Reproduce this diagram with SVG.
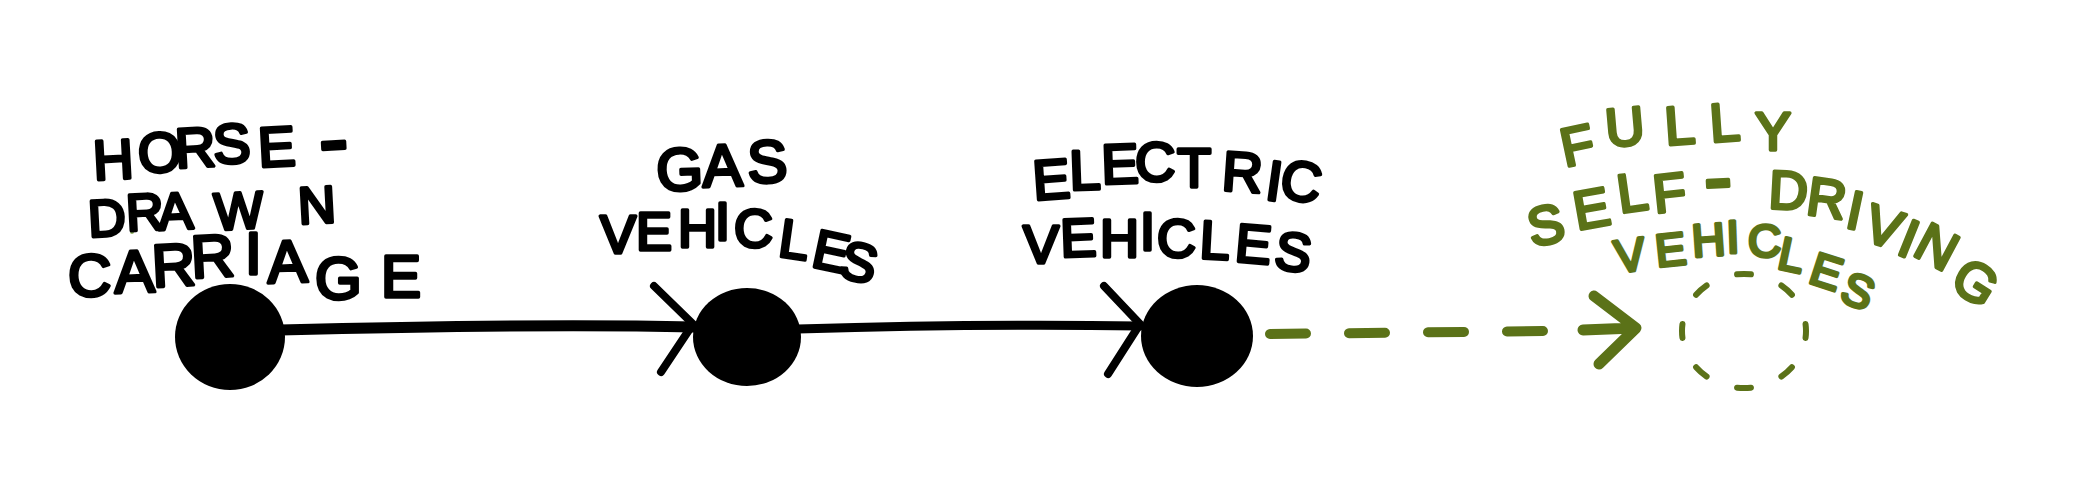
<svg xmlns="http://www.w3.org/2000/svg" width="2086" height="504" viewBox="0 0 2086 504">
  <style>
    .lbl { font-family: "Liberation Sans", Arial, sans-serif; font-weight: normal; stroke-linejoin: round; stroke-linecap: round; }
    .blk { fill: #000; stroke: #000; stroke-width: 3.5; }
    .grn { fill: #5b7218; stroke: #5b7218; stroke-width: 3.5; }
    .dot { fill: #000; }
    .wire { fill: none; stroke: #000; stroke-linecap: round; stroke-linejoin: round; }
    .gwire { fill: none; stroke: #5b7218; stroke-linecap: round; stroke-linejoin: round; }
  </style>
  <rect width="2086" height="504" fill="#ffffff"/>

  <g id="connectors">
    <path class="wire" stroke-width="11" d="M 280 330 C 400 327, 560 324, 694 327"/>
    <path class="wire" stroke-width="8" d="M 654 286 L 693 324 L 661 372"/>
    <path class="wire" stroke-width="9" d="M 798 329 C 900 326, 1010 324, 1140 326"/>
    <path class="wire" stroke-width="8" d="M 1104 286 L 1140 324 L 1108 374"/>
    <path class="gwire" stroke-width="10" stroke-dasharray="36 43" d="M 1270 334 L 1548 331"/>
    <path class="gwire" stroke-width="11" d="M 1583 330 L 1634 328 M 1594 296 L 1636 328 L 1599 364"/>
  </g>

  <g id="node-horse-drawn-carriage">
    <ellipse class="dot" cx="230" cy="337" rx="55" ry="53"/>
    <circle cx="132" cy="232" r="2" fill="#8fb060"/>
    <text class="lbl blk" font-size="56" x="94 139 176 214 259" y="180 173 168 164 167" rotate="-3 -3 -3 -3 -3">HORSE<tspan x="320" y="170" font-size="90" rotate="-3">-</tspan></text>
    <text class="lbl blk" font-size="52" x="89 127 159 215 299" y="237 231 230 230 224" rotate="-3 -3 -3 -3 -3">DRAWN</text>
    <text class="lbl blk" font-size="60" x="68 115 153 192 245 268 315 381" y="296 293 287 278 274 283 299 297" rotate="0 -2 -3 -3 0 -2 0 0">CARRIAGE</text>
  </g>

  <g id="node-gas-vehicles">
    <ellipse class="dot" cx="747" cy="337" rx="54" ry="49"/>
    <text class="lbl blk" font-size="60" x="657 703 748" y="191 187 183" rotate="-2 -2 -2">GAS</text>
    <text class="lbl blk" font-size="54" x="600 636 678 715 734 777 810 837" y="253 250 247 240 247 256 266 276" rotate="0 0 0 0 0 8 12 14">VEHICLES</text>
  </g>

  <g id="node-electric-vehicles">
    <ellipse class="dot" cx="1197" cy="336" rx="56" ry="51"/>
    <text class="lbl blk" font-size="56" x="1034 1070 1102 1135 1177 1221 1264 1278" y="200 190 184 181 187 190 199 197" rotate="-4 -2 -2 0 0 4 8 10">ELECTRIC</text>
    <text class="lbl blk" font-size="54" x="1023 1061 1100 1140 1157 1199 1234 1273" y="263 257 257 250 257 258 261 268" rotate="0 -2 0 0 0 3 5 8">VEHICLES</text>
  </g>

  <g id="node-fully-self-driving-vehicles">
    <ellipse cx="1744" cy="331" rx="62" ry="57" fill="none" stroke="#5b7218" stroke-width="6" stroke-linecap="round" pathLength="80" stroke-dasharray="3 7" stroke-dashoffset="1.5"/>
    <text class="lbl grn" font-size="54" x="1565 1607 1666 1711 1755" y="167 147 145 142 150" rotate="-12 -5 -4 -4 0">FULLY</text>
    <text class="lbl grn" font-size="54" x="1532 1577 1620 1655" y="247 230 213 213" rotate="-12 -10 -8 -6">SELF<tspan x="1705" y="207" font-size="86" rotate="-3">-</tspan><tspan x="1745 1768 1805 1844 1861 1895 1911 1948" y="207 208 214 227 239 253 254 287" rotate="0 3 8 12 18 22 28 32"> DRIVING</tspan></text>
    <text class="lbl grn" font-size="46" x="1617 1657 1693 1727 1748 1776 1807 1838" y="273 267 257 253 257 268 282 300" rotate="-8 -6 -4 -2 0 12 18 22">VEHICLES</text>
  </g>
</svg>
